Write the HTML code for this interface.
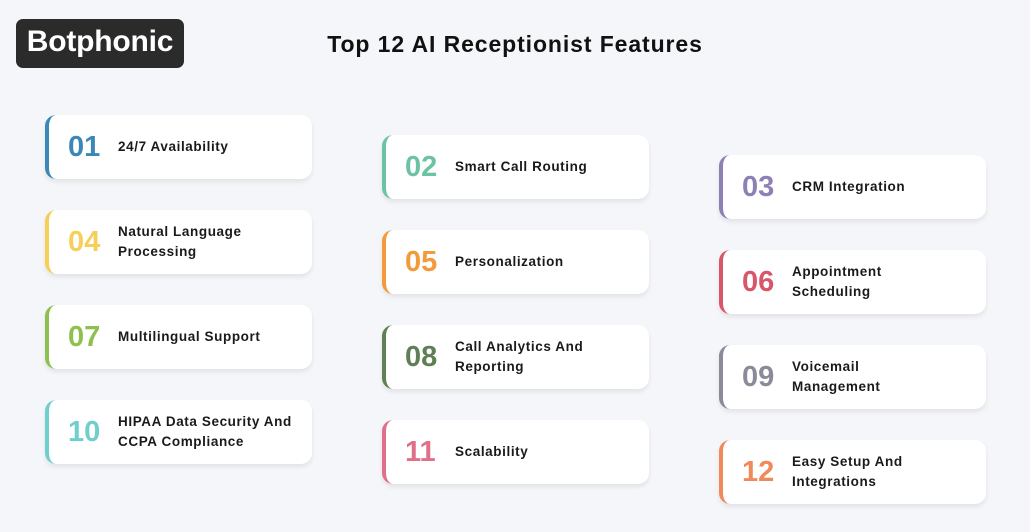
<!DOCTYPE html>
<html><head><style>
body{margin:0;width:1030px;height:532px;background:#f5f6f9;font-family:"Liberation Sans",sans-serif;position:relative;overflow:hidden}
.logo{position:absolute;left:16px;top:19px;width:168px;height:49px;background:#2b2b2b;border-radius:7px;color:#fff;font-weight:bold;font-size:30px;line-height:45px;text-align:center;letter-spacing:-0.2px}
.title{position:absolute;left:0;width:1030px;top:31px;text-align:center;font-weight:bold;font-size:23px;color:#111;letter-spacing:0.9px}
.card{position:absolute;width:263px;height:64px;background:#fff;border-radius:11px;border-left:4px solid;box-shadow:0 3px 5px rgba(0,0,0,0.08)}
.n{position:absolute;left:19px;top:0;line-height:64px;font-size:29px;font-weight:bold}
.t{position:absolute;left:69px;top:0;height:64px;display:flex;align-items:center;font-size:13.5px;font-weight:bold;color:#1a1a1a;line-height:20px;letter-spacing:0.6px}
</style></head><body>
<div class="logo">Botphonic</div>
<div class="title">Top 12 AI Receptionist Features</div>

<div class="card" style="left:45px;top:115px;border-color:#3a87b8"><div class="n" style="color:#3a87b8">01</div><div class="t">24/7 Availability</div></div>
<div class="card" style="left:382px;top:135px;border-color:#6cc3a3"><div class="n" style="color:#6cc3a3">02</div><div class="t">Smart Call Routing</div></div>
<div class="card" style="left:719px;top:155px;border-color:#8e7fb5"><div class="n" style="color:#8e7fb5">03</div><div class="t">CRM Integration</div></div>

<div class="card" style="left:45px;top:210px;border-color:#f5cf5a"><div class="n" style="color:#f5cf5a">04</div><div class="t">Natural Language<br>Processing</div></div>
<div class="card" style="left:382px;top:230px;border-color:#f39a3a"><div class="n" style="color:#f39a3a">05</div><div class="t">Personalization</div></div>
<div class="card" style="left:719px;top:250px;border-color:#d9566a"><div class="n" style="color:#d9566a">06</div><div class="t">Appointment<br>Scheduling</div></div>

<div class="card" style="left:45px;top:305px;border-color:#8dc04e"><div class="n" style="color:#8dc04e">07</div><div class="t">Multilingual Support</div></div>
<div class="card" style="left:382px;top:325px;border-color:#5f7f55"><div class="n" style="color:#5f7f55">08</div><div class="t">Call Analytics And<br>Reporting</div></div>
<div class="card" style="left:719px;top:345px;border-color:#8a8a9a"><div class="n" style="color:#8a8a9a">09</div><div class="t">Voicemail<br>Management</div></div>

<div class="card" style="left:45px;top:400px;border-color:#6fcfcf"><div class="n" style="color:#6fcfcf">10</div><div class="t">HIPAA Data Security And<br>CCPA Compliance</div></div>
<div class="card" style="left:382px;top:420px;border-color:#e0708a"><div class="n" style="color:#e0708a">11</div><div class="t">Scalability</div></div>
<div class="card" style="left:719px;top:440px;border-color:#f08a5a"><div class="n" style="color:#f08a5a">12</div><div class="t">Easy Setup And<br>Integrations</div></div>
</body></html>
